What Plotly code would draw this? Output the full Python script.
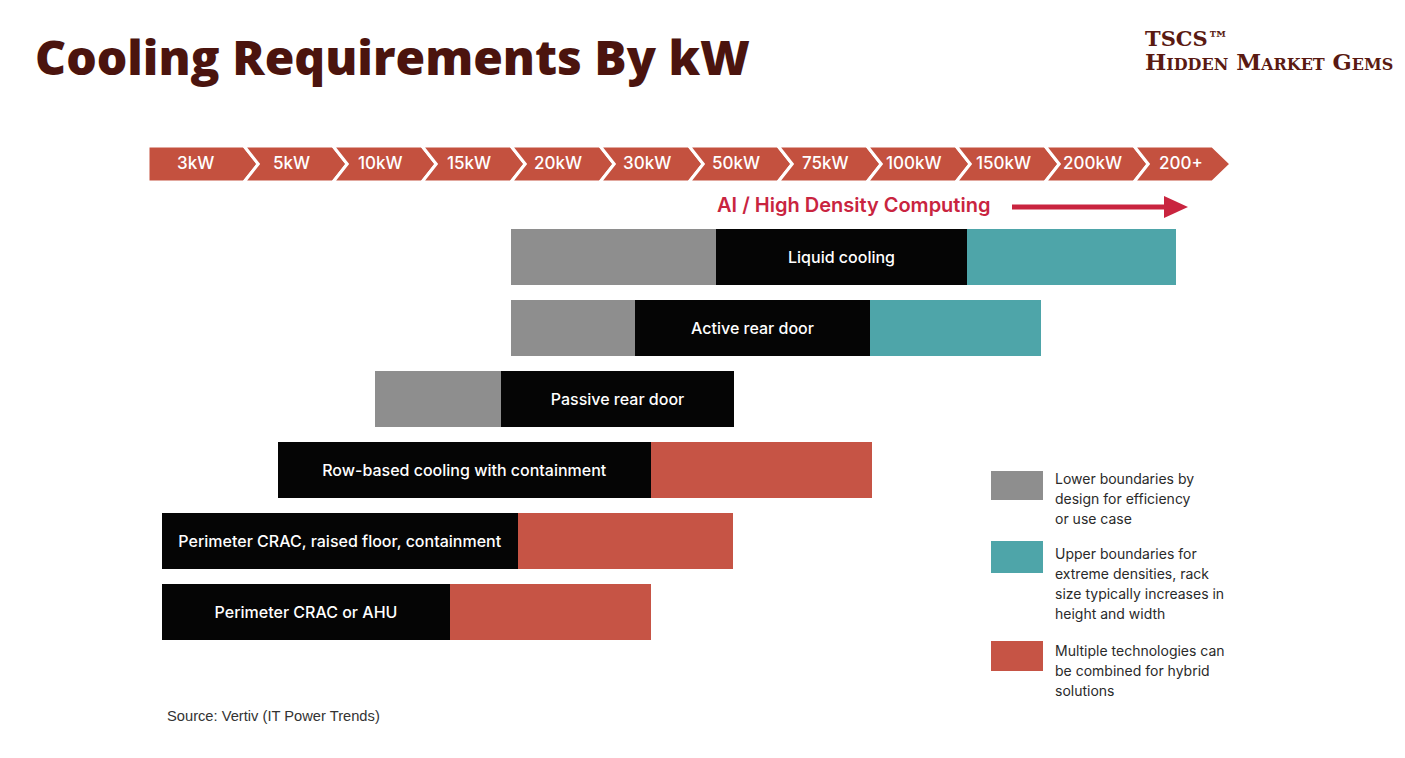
import plotly.graph_objects as go

OFF = 8                      # page body margin in the browser
W, H = 1405 - 2 * OFF, 758 - 2 * OFF

# ---------------- data ----------------
kw_labels = ["3kW", "5kW", "10kW", "15kW", "20kW", "30kW", "50kW", "75kW",
             "100kW", "150kW", "200kW", "200+"]

technologies = ["Liquid cooling", "Active rear door", "Passive rear door",
                "Row-based cooling with containment",
                "Perimeter CRAC, raised floor, containment",
                "Perimeter CRAC or AHU"]

# positions on the kW scale, in category steps (0 = start of "3kW")
lower_start = [4.0, 4.0, 2.47, None, None, None]        # grey: lower boundaries
core_start = [6.3, 5.39, 3.89, 1.38, 0.08, 0.08]        # black: typical range
core_end = [9.12, 8.03, 6.51, 5.57, 4.08, 3.31]
upper_end = [11.47, 9.96, None, None, None, None]       # teal: upper boundaries
hybrid_end = [None, None, None, 8.06, 6.49, 5.57]       # red: hybrid solutions

legend_items = [
    ("Lower boundaries by", "design for efficiency", "or use case"),
    ("Upper boundaries for", "extreme densities, rack",
     "size typically increases in", "height and width"),
    ("Multiple technologies can", "be combined for hybrid", "solutions"),
]

# ---------------- styles ----------------
GREY = "#8e8e8e"
BLACK = "#050505"
TEAL = "#4ea5a9"
RED = "#c65445"
HEAD_RED = "#c4513f"
CRIMSON = "#c9243f"
BROWN = "#4b140e"
LOGO = "#5a1a12"

# screen pixel -> axis conversions (layout helpers)
X0, XS = 155.0, 89.0      # screen px of unit 0, px per unit
Y0, YS = 257.0, 71.0      # screen px of row 0, px per row


def ux(px):
    return (px - X0) / XS


def uy(py):
    return (py - Y0) / YS


def px_(x):
    return (x - OFF) / W


def py_(y):
    return 1 - (y - OFF) / H


fig = go.Figure()


def seg(starts, ends):
    base, length = [], []
    for s, e in zip(starts, ends):
        if s is None or e is None:
            base.append(None)
            length.append(None)
        else:
            base.append(s)
            length.append(e - s)
    return base, length


rows = list(range(len(technologies)))
bw = 0.775

b, l = seg(lower_start, core_start)
fig.add_trace(go.Bar(y=rows, x=l, base=b, orientation="h", width=bw,
                     marker=dict(color=GREY, line=dict(width=0)),
                     name="Lower boundaries", hoverinfo="skip"))
b, l = seg(core_start, core_end)
fig.add_trace(go.Bar(y=rows, x=l, base=b, orientation="h", width=bw,
                     marker=dict(color=BLACK, line=dict(width=0)),
                     text=technologies, textposition="inside",
                     insidetextanchor="middle", constraintext="none",
                     textfont=dict(family="Inter", size=16, color="white", weight=500),
                     name="Core", hoverinfo="skip"))
b, l = seg(core_end, upper_end)
fig.add_trace(go.Bar(y=rows, x=l, base=b, orientation="h", width=bw,
                     marker=dict(color=TEAL, line=dict(width=0)),
                     name="Upper boundaries", hoverinfo="skip"))
b, l = seg(core_end, hybrid_end)
fig.add_trace(go.Bar(y=rows, x=l, base=b, orientation="h", width=bw,
                     marker=dict(color=RED, line=dict(width=0)),
                     name="Hybrid", hoverinfo="skip"))

shapes = []
annotations = []

# ---------------- chevron header ----------------
top, bot = uy(146), uy(182)
mid = (top + bot) / 2
d = 0.16
n = len(kw_labels)
for k in range(n):
    left = ux(148) if k == 0 else k
    right = 11.88 if k == n - 1 else k + 1
    tip = right + (0.21 if k == n - 1 else d)
    if k == 0:
        path = f"M{left},{top} L{right},{top} L{tip},{mid} L{right},{bot} L{left},{bot} Z"
    else:
        path = (f"M{left},{top} L{right},{top} L{tip},{mid} L{right},{bot} "
                f"L{left},{bot} L{left + d},{mid} Z")
    shapes.append(dict(type="path", xref="x", yref="y", path=path,
                       fillcolor=HEAD_RED, line=dict(color="white", width=3),
                       layer="above"))
    cx = 0.46 if k == 0 else k + 0.53
    annotations.append(dict(x=cx, y=mid - 0.02, xref="x", yref="y", text=kw_labels[k],
                            showarrow=False, xanchor="center", yanchor="middle",
                            font=dict(family="Inter", size=17, color="white", weight=500)))

# ---------------- AI / High density ----------------
annotations.append(dict(x=px_(715), y=py_(205), xref="paper", yref="paper",
                        text="AI / High Density Computing", showarrow=False,
                        xanchor="left", yanchor="middle",
                        font=dict(family="Inter", size=20, color=CRIMSON, weight=600)))
ay = py_(207)
shapes.append(dict(type="line", xref="paper", yref="paper", x0=px_(1012), x1=px_(1168),
                   y0=ay, y1=ay, line=dict(color=CRIMSON, width=5)))
shapes.append(dict(type="path", xref="paper", yref="paper",
                   path=(f"M{px_(1164)},{py_(196)} L{px_(1188)},{ay} "
                         f"L{px_(1164)},{py_(218)} Z"),
                   fillcolor=CRIMSON, line=dict(width=0)))

# ---------------- legend ----------------
box_y = [(471, 500), (541, 573), (641, 671)]
box_col = [GREY, TEAL, RED]
line_y0 = [478, 553, 650]
for (y0, y1), c, ly, lines in zip(box_y, box_col, line_y0, legend_items):
    shapes.append(dict(type="rect", xref="paper", yref="paper",
                       x0=px_(991), x1=px_(1043), y0=py_(y1), y1=py_(y0),
                       fillcolor=c, line=dict(width=0)))
    for j, t in enumerate(lines):
        annotations.append(dict(x=px_(1053), y=py_(ly + 20 * j), xref="paper", yref="paper",
                                text=t, showarrow=False, xanchor="left", yanchor="middle",
                                font=dict(family="Inter", size=14, color="#2a2a2a")))

# ---------------- titles / source / logo ----------------
annotations.append(dict(x=px_(33), y=py_(56), xref="paper", yref="paper",
                        text="Cooling Requirements By kW", showarrow=False,
                        xanchor="left", yanchor="middle",
                        font=dict(family="Open Sans", size=48, color=BROWN, weight=800)))
annotations.append(dict(x=px_(165), y=py_(716), xref="paper", yref="paper",
                        text="Source: Vertiv (IT Power Trends)", showarrow=False,
                        xanchor="left", yanchor="middle",
                        font=dict(family="Liberation Sans", size=14.7, color="#333333")))
annotations.append(dict(x=px_(1143), y=py_(38), xref="paper", yref="paper",
                        text="TSCS™", showarrow=False,
                        xanchor="left", yanchor="middle",
                        font=dict(family="DejaVu Serif", size=21, color=LOGO, weight=700)))
annotations.append(dict(x=px_(1143), y=py_(62), xref="paper", yref="paper",
                        text="Hidden Market Gems", showarrow=False,
                        xanchor="left", yanchor="middle",
                        font=dict(family="DejaVu Serif", size=22.5, color=LOGO,
                                  weight=700, variant="small-caps")))

fig.update_layout(
    width=W, height=H,
    margin=dict(l=0, r=0, t=0, b=0),
    paper_bgcolor="white", plot_bgcolor="white",
    barmode="overlay", bargap=0,
    showlegend=False,
    xaxis=dict(range=[ux(OFF), ux(OFF + W)], visible=False, fixedrange=True),
    yaxis=dict(range=[uy(OFF + H), uy(OFF)], visible=False, fixedrange=True),
    shapes=shapes, annotations=annotations,
)

fig.write_html("out.html")
